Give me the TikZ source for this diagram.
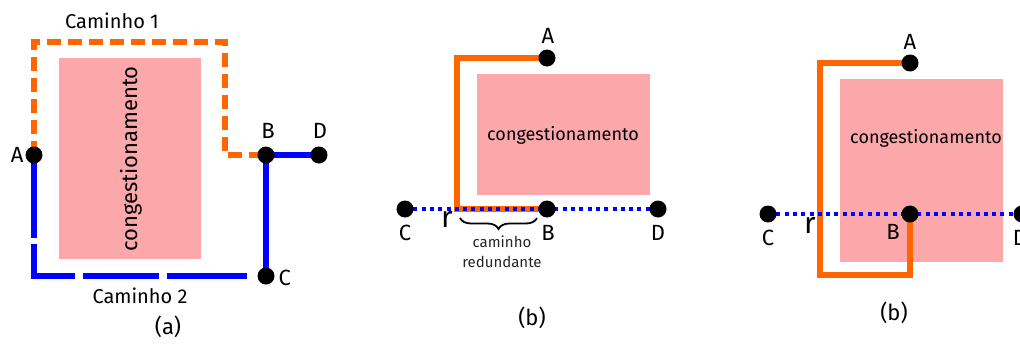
\documentclass[tikz,border=0pt]{standalone}
\usepackage{fontspec}
\setmainfont{Fira Sans}
\usetikzlibrary{decorations.pathreplacing}
\definecolor{pinkc}{RGB}{252,168,170}
\definecolor{orangec}{RGB}{255,102,0}
\definecolor{bluec}{RGB}{0,0,255}
\pgfdeclarelayer{back}\pgfdeclarelayer{mid}\pgfsetlayers{back,mid,main}
\begin{document}
\begin{tikzpicture}[x=1pt,y=-1pt,
  dot/.style={circle,fill=black,inner sep=0pt,minimum size=17pt},
  lbl/.style={font=\fontsize{22}{24}\selectfont},
  pathcap/.style={font=\fontsize{20}{22}\selectfont},
  cong/.style={fill=pinkc,draw=none},
  congtxt/.style={font=\fontsize{18}{20}\selectfont},
  orpath/.style={draw=orangec,line width=6pt},
  ordash/.style={draw=orangec,line width=5.5pt,dash pattern=on 14pt off 7pt},
  blsolid/.style={draw=bluec,line width=5.5pt},
  bldot/.style={draw=bluec,line width=4pt,dash pattern=on 4pt off 4.3pt},
  rlbl/.style={font=\fontsize{30}{32}\selectfont}]
\useasboundingbox (0,0) rectangle (1020,343);
% ---------- panel (a) ----------
\node[dot] (aA) at (34,155) {};
\node[dot] (aB) at (266,155) {};
\node[dot] (aD) at (319,155) {};
\node[dot] (aC) at (266,276) {};
\begin{pgfonlayer}{back}
  \path[cong] (59,58) rectangle (201,259);
\end{pgfonlayer}
\node[congtxt,font=\fontsize{22}{24}\selectfont,rotate=90] (acong) at (131,159) {congestionamento};
\begin{pgfonlayer}{mid}
  \draw[ordash] (aA.center) |- (225,42) |- (aB.center);
  \draw[blsolid,dash pattern=on 83pt off 6pt on 73pt off 8pt on 76pt off 8pt on 80pt off 11pt on 40pt] (aA.center) |- (aC.center);
  \draw[blsolid] (aB.center) -- (aD.center);
  \draw[blsolid] (aB.center) -- (aC.center);
\end{pgfonlayer}
\node[lbl,anchor=east] (laA) at (27,155) {A};
\node[lbl] (laB) at (268,131) {B};
\node[lbl] (laD) at (320,131) {D};
\node[lbl,anchor=west] (laC) at (275,278) {C};
\node[pathcap] (cam1) at (112,21) {Caminho 1};
\node[pathcap] (cam2) at (140,296) {Caminho 2};
\node[lbl] (capa) at (168,327) {(a)};
% ---------- panel (b) left ----------
\node[dot] (bA) at (547,58) {};
\node[dot] (bB) at (547,209) {};
\node[dot] (bC) at (405,209) {};
\node[dot] (bD) at (658,209) {};
\begin{pgfonlayer}{back}
  \path[cong] (477,74) rectangle (650,195);
\end{pgfonlayer}
\node[congtxt] (bcong) at (563,135) {congestionamento};
\begin{pgfonlayer}{mid}
  \draw[orpath] (bA.center) -| (457,209) -- (bB.center);
  \draw[bldot] (bC.center) -- (bD.center);
\end{pgfonlayer}
\node[lbl] (lbA) at (548,36) {A};
\node[lbl] (lbB) at (548,233) {B};
\node[lbl] (lbC) at (405,233) {C};
\node[lbl] (lbD) at (658,233) {D};
\node[rlbl] (lbr) at (447,219) {r};
\draw[decorate,decoration={brace,mirror,amplitude=11pt},line width=1.8pt] (460,218) -- (537,218);
\node[font=\fontsize{15}{20}\selectfont,text=black!85,align=center] (red) at (502,252) {caminho\\redundante};
\node[lbl] (capb1) at (532,318) {(b)};
% ---------- panel (b) right ----------
\node[dot] (cA) at (910,63) {};
\node[dot] (cB) at (910,214) {};
\node[dot] (cC) at (768,214) {};
\node[dot] (cD) at (1022,214) {};
\begin{pgfonlayer}{back}
  \path[cong] (840,79) rectangle (1003,262);
\end{pgfonlayer}
\node[congtxt] (ccong) at (926,138) {congestionamento};
\begin{pgfonlayer}{mid}
  \draw[orpath] (cA.center) -| (820,275) -| (cB.center);
  \draw[bldot] (cC.center) -- (cD.center);
\end{pgfonlayer}
\node[lbl] (lcA) at (910,42) {A};
\node[lbl] (lcB) at (893,232) {B};
\node[lbl] (lcC) at (768,238) {C};
\node[lbl] (lcD) at (1020,238) {D};
\node[rlbl] (lcr) at (810,225) {r};
\node[lbl] (capb2) at (894,313) {(b)};
\end{tikzpicture}
\end{document}
